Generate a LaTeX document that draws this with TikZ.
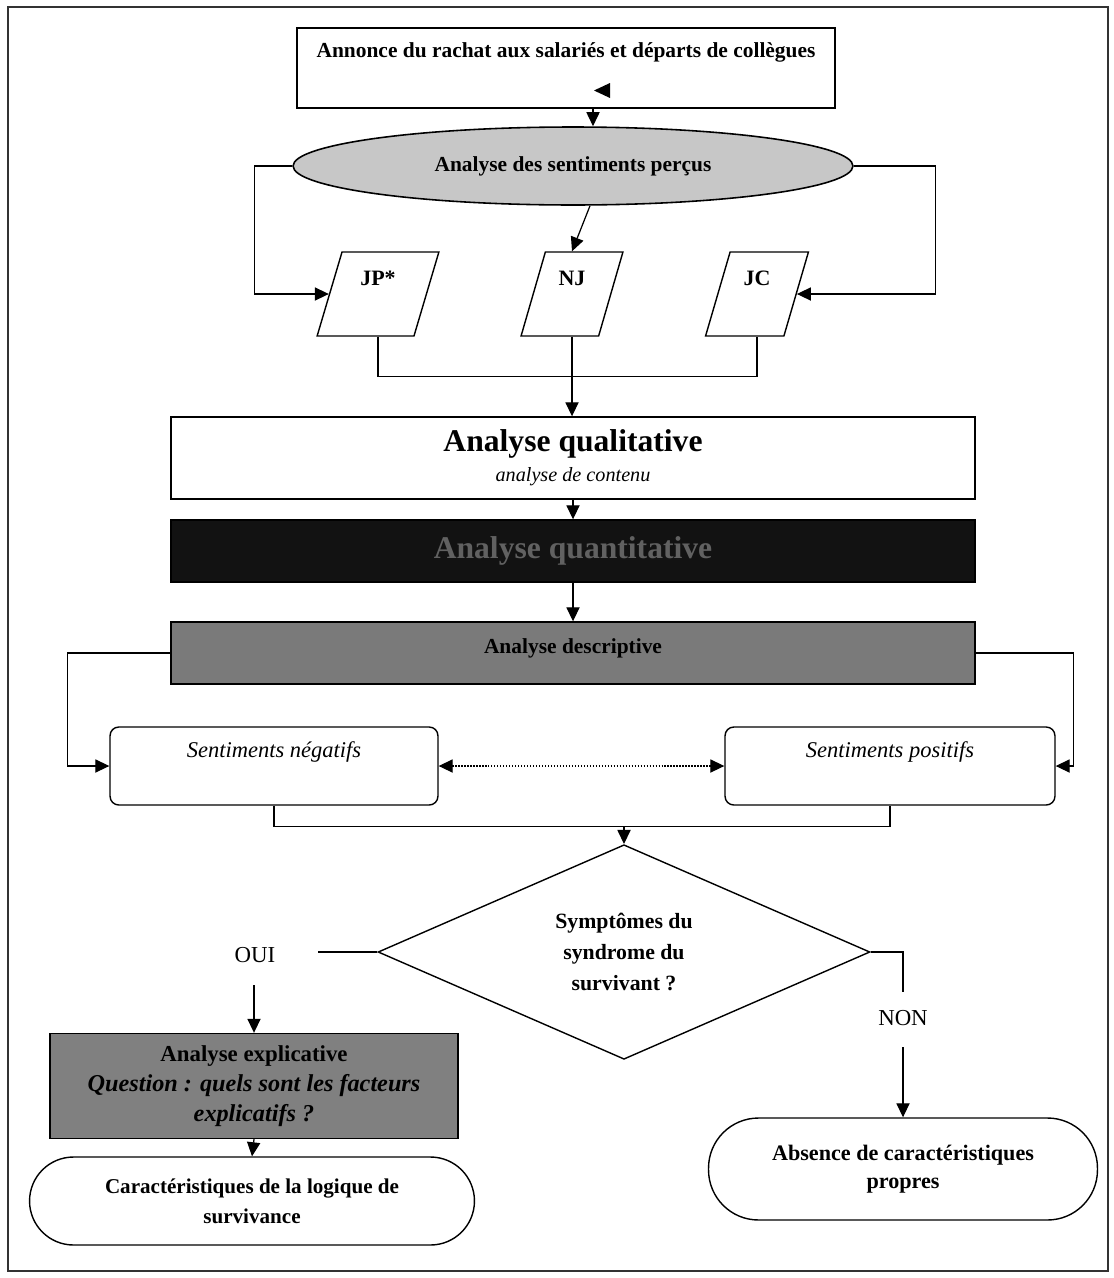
\documentclass[tikz,border=0pt]{standalone}
\usepackage{fontspec}
\setmainfont{Liberation Serif}
\usetikzlibrary{shapes.geometric,arrows.meta,calc}
\begin{document}
\begin{tikzpicture}[x=0.02cm,y=-0.02cm,
  conn/.style={line width=0.7pt},
  arr/.style={conn,-{Triangle[length=8pt,width=7.5pt]}},
  dblarr/.style={conn,densely dotted,{Triangle[length=8pt,width=7.5pt]}-{Triangle[length=8pt,width=7.5pt]}},
  plainbox/.style={draw,line width=0.8pt,rectangle,align=center,inner sep=2pt},
  para/.style={draw,line width=0.8pt,trapezium,trapezium left angle=75,trapezium right angle=105,trapezium stretches=true,inner sep=0pt,minimum height=1.68cm,font=\bfseries\fontsize{12.5}{14}\selectfont,text height=8pt,text depth=18pt},
  softbox/.style={draw,line width=0.8pt,rectangle,rounded corners=5pt,minimum width=6.6cm,minimum height=1.56cm,font=\itshape\fontsize{12.8}{14}\selectfont,text height=8pt,text depth=18pt},
  term/.style={draw,line width=0.8pt,rectangle,align=center},
  lbl/.style={font=\fontsize{13}{15}\selectfont}
]
\useasboundingbox (0,0) rectangle (1114,1278);
\draw[line width=1pt,black!80] (8,7) rectangle (1108,1271);

% top box
\node[plainbox,minimum width=10.76cm,minimum height=1.6cm,font=\bfseries\fontsize{12.2}{14}\selectfont,text height=8pt,text depth=20pt] (top) at (566,68) {Annonce du rachat aux salariés et départs de collègues};
\fill (610,83) -- (610,98) -- (594,90.5) -- cycle;

% ellipse
\node[draw,line width=0.9pt,ellipse,fill=black!22,inner sep=0pt,minimum width=11.2cm,minimum height=1.56cm,font=\bfseries\fontsize{12.2}{14}\selectfont] (ell) at (573,166) {Analyse des sentiments perçus};
\draw[arr] ($(top.south)+(27,0)$) -- ($(ell.north)+(20,0)$);

% parallelograms
\node[para,minimum width=2.44cm] (jp) at (378,294) {JP*};
\node[para,minimum width=2.04cm] (nj) at (572,294) {NJ};
\node[para,minimum width=2.06cm] (jc) at (757,294) {JC};

\draw[arr] (ell.west) -- ++(-38,0) |- (jp.west);
\draw[arr] (ell.east) -- ++(82,0) |- (jc.east);
\draw[arr] ($(ell.south)+(17,0)$) -- (nj.north);

% qualitative
\node[plainbox,minimum width=16.08cm,minimum height=1.64cm] (qual) at (573,458)
  {{\bfseries\fontsize{18}{21}\selectfont Analyse qualitative}\\[5pt]{\itshape\fontsize{11.5}{13}\selectfont analyse de contenu}};
\draw[conn] (jp.south) -- ++(0,40) -| (jc.south);
\draw[arr] (nj.south) -- (nj.south |- qual.north);

% quantitative (dark)
\node[plainbox,fill=black!93,minimum width=16.08cm,minimum height=1.24cm,text=black!62,font=\bfseries\fontsize{18}{21}\selectfont] (quant) at (573,551) {Analyse quantitative};
\draw[arr] (qual.south) -- (quant.north);

% descriptive
\node[plainbox,fill=black!52,minimum width=16.08cm,minimum height=1.24cm,font=\bfseries\fontsize{12.2}{14}\selectfont,text height=8pt,text depth=8pt] (desc) at (573,653) {Analyse descriptive};
\draw[arr] (quant.south) -- (desc.north);

% sentiments
\node[softbox,minimum width=6.56cm] (neg) at (274,766) {Sentiments négatifs};
\node[softbox] (pos) at (890,766) {Sentiments positifs};
\draw[arr] (desc.west) -- ++(-103,0) |- (neg.west);
\draw[arr] (desc.east) -- ++(98,0) |- (pos.east);
\draw[dblarr] (neg.east) -- (pos.west);

% diamond
\node[draw,line width=0.8pt,diamond,inner sep=0pt,minimum width=9.84cm,minimum height=4.1cm,align=center,font=\bfseries\fontsize{12.4}{17.5}\selectfont] (dia) at (624,952) {Symptômes du\\syndrome du\\survivant ?};
\coordinate (sentjoin) at (624,826);
\draw[conn] (neg.south) -- ++(0,21) -| (pos.south);
\draw[arr] (sentjoin) -- (dia.north);

% OUI branch
\node[lbl] (oui) at (255,955) {OUI};
\coordinate (ouiend) at (318,952);
\draw[conn] (dia.west) -- (ouiend);
\node[plainbox,fill=black!50,minimum width=8.16cm,minimum height=2.1cm,font=\fontsize{13.8}{17}\selectfont] (expl) at (254,1086)
  {{\fontsize{13}{17}\selectfont\textbf{Analyse explicative}}\\\textbf{\textit{Question : quels sont les facteurs}}\\\textbf{\textit{explicatifs ?}}};
\coordinate (ouistart) at (254,985);
\draw[arr] (ouistart) -- (expl.north);
\node[term,rounded corners=0.88cm,minimum width=8.9cm,minimum height=1.76cm,font=\bfseries\fontsize{12}{17}\selectfont] (carac) at (252,1201) {Caractéristiques de la logique de\\survivance};
\draw[arr] (expl.south) -- (carac.north);

% NON branch
\coordinate (nonup) at (903,992);
\draw[conn] (dia.east) -| (nonup);
\node[lbl] (non) at (903,1018) {NON};
\node[term,rounded corners=1cm,minimum width=7.78cm,minimum height=2.04cm,font=\bfseries\fontsize{12.6}{16}\selectfont] (abs) at (903,1169) {Absence de caractéristiques\\propres};
\coordinate (nonstart) at (903,1047);
\draw[arr] (nonstart) -- (abs.north);
\end{tikzpicture}
\end{document}
